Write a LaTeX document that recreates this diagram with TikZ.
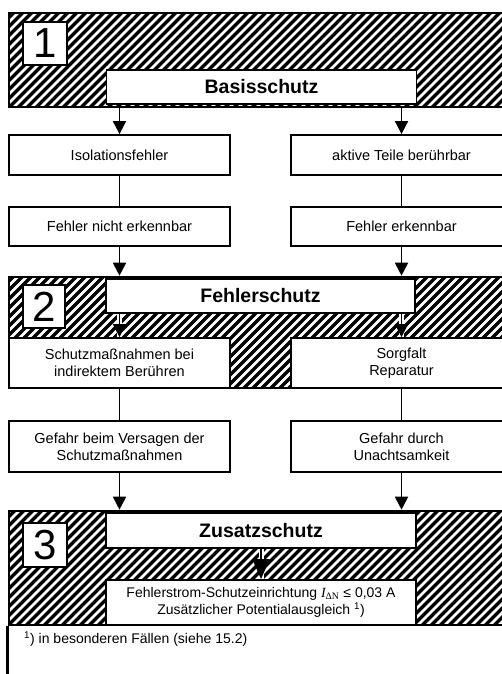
\documentclass[tikz,border=0pt]{standalone}
\usepackage{fontspec}
\setmainfont{Liberation Sans}
\newfontfamily\serifface{Liberation Serif}
\usetikzlibrary{arrows.meta}
\begin{document}
\begin{tikzpicture}[x=1pt,y=-1pt,
  hatch/.style={path picture={\foreach \i in {-520,-511,...,320} \draw[line width=3.3pt] (\i,100) -- ++(200,-200);}},
  band/.style={draw, line width=2.6pt, hatch, inner sep=0pt, minimum width=503pt},
  box/.style={draw, fill=white, line width=1.8pt, inner sep=0pt, align=center, font=\fontsize{14.5}{17}\selectfont},
  colbox/.style={box, minimum width=221pt},
  title/.style={box, minimum width=310pt, font=\fontsize{19.5}{22}\selectfont\bfseries},
  num/.style={box, minimum width=44pt, minimum height=43pt, font=\fontsize{42}{42}\selectfont},
  conn/.style={line width=1.8pt},
  halo/.style={draw=white, line width=5pt},
  arr/.style={line width=1.8pt, -{Triangle[width=13pt,length=13pt]}},
  bigarr/.style={line width=2pt, -{Triangle[width=17pt,length=20pt]}}
]
\useasboundingbox (0,0) rectangle (502,674);
\clip (0,0) rectangle (502,674);
% band 1
\node[band, minimum height=94pt] (band1) at (260.5,60) {};
\node[num] (n1) at (45,43.5) {1};
\node[title, minimum height=34pt] (basis) at (261.5,87) {Basisschutz};
% column rows
\node[colbox, minimum height=40pt] (isol) at (119.5,155) {Isolationsfehler};
\node[colbox, minimum height=40pt] (aktiv) at (401.5,155) {aktive Teile berührbar};
\node[colbox, minimum height=39pt] (fnicht) at (119.5,226.5) {Fehler nicht erkennbar};
\node[colbox, minimum height=39pt] (ferk) at (401.5,226.5) {Fehler erkennbar};
% band 2
\node[band, minimum height=111pt] (band2) at (260.5,332.5) {};
\node[num, minimum width=42pt] (n2) at (44,306.5) {2};
\node[title, minimum width=309pt, minimum height=34pt] (fschutz) at (260.5,296) {Fehlerschutz};
\node[colbox, minimum height=50pt] (schutz) at (119.5,363) {Schutzmaßnahmen bei\\indirektem Berühren};
\node[colbox, minimum height=50pt] (sorg) at (401.5,363) {Sorgfalt\\Reparatur};
% row D
\node[colbox, minimum height=51pt] (gef1) at (119.5,446.5) {Gefahr beim Versagen der\\Schutzmaßnahmen};
\node[colbox, minimum height=51pt] (gef2) at (401.5,446.5) {Gefahr durch\\Unachtsamkeit};
% band 3
\node[band, minimum height=114pt] (band3) at (260.5,568) {};
\node[num, minimum height=44pt] (n3) at (45,545) {3};
\node[title, minimum height=35pt] (zusatz) at (261,530.5) {Zusatzschutz};
\node[box, minimum width=310pt, minimum height=45pt, font=\fontsize{14}{17}\selectfont] (fi) at (261,602.5)
  {Fehlerstrom-Schutzeinrichtung {\serifface\itshape I}\textsubscript{\serifface ΔN} ≤ 0,03 A\\Zusätzlicher Potentialausgleich \textsuperscript{1})};
% footnote
\coordinate (fbot) at (9,700);
\draw[line width=2.6pt] (band3.south west) -- (band3.south west |- fbot);
\node[anchor=west, inner sep=0pt, font=\fontsize{14}{17}\selectfont] (foot) at (24,639) {\textsuperscript{1}) in besonderen Fällen (siehe 15.2)};
% connectors
\draw[arr] (isol.north |- band1.south) -- (isol.north);
\draw[arr] (aktiv.north |- band1.south) -- (aktiv.north);
\draw[conn] (isol) -- (fnicht);
\draw[conn] (aktiv) -- (ferk);
\draw[arr] (fnicht.south) -- (fnicht.south |- band2.north);
\draw[arr] (ferk.south) -- (ferk.south |- band2.north);
\draw[halo] (schutz.north |- fschutz.south) -- (schutz.north);
\draw[arr] (schutz.north |- fschutz.south) -- (schutz.north);
\draw[halo] (sorg.north |- fschutz.south) -- (sorg.north);
\draw[arr] (sorg.north |- fschutz.south) -- (sorg.north);
\draw[conn] (schutz) -- (gef1);
\draw[conn] (sorg) -- (gef2);
\draw[arr] (gef1.south) -- (gef1.south |- band3.north);
\draw[arr] (gef2.south) -- (gef2.south |- band3.north);
\draw[halo] (zusatz.south) -- (fi.north);
\draw[bigarr] (zusatz.south) -- (fi.north);
\end{tikzpicture}
\end{document}
